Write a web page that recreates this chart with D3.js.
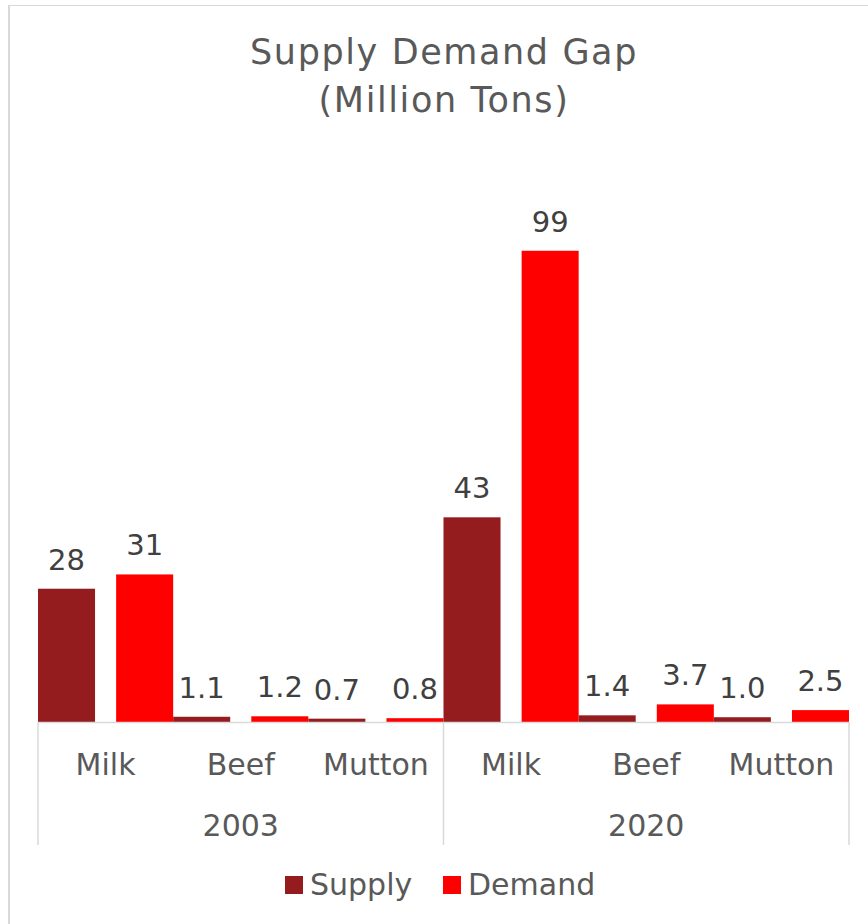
<!DOCTYPE html>
<html>
<head>
<meta charset="UTF-8">
<title>Supply Demand Gap</title>
<style>
  body { margin: 0; background: #fff; }
  text { font-family: "Century Gothic", "DejaVu Sans", sans-serif; fill: #595959; }
</style>
</head>
<body>
<script src="https://d3js.org/d3.v7.min.js"></script>
<script>
// data (million tons)
var years = ["2003", "2020"];
var categories = ["Milk", "Beef", "Mutton"];
var series = ["Supply", "Demand"];
var supply2003 = [28, 1.1, 0.7];
var demand2003 = [31, 1.2, 0.8];
var supply2020 = [43, 1.4, 1.0];
var demand2020 = [99, 3.7, 2.5];
var colors = ["#941b1e", "#ff0000"];

var W = 868, H = 924;
var svg = d3.select("body").append("svg")
    .attr("width", W)
    .attr("height", H);

// chart frame (only left and top edges are visible in the crop)
svg.append("line").attr("x1", 9).attr("x2", 9).attr("y1", 5).attr("y2", H)
    .attr("stroke", "#d9d9d9").attr("stroke-width", 2);
svg.append("line").attr("x1", 8).attr("x2", W).attr("y1", 5.5).attr("y2", 5.5)
    .attr("stroke", "#d9d9d9").attr("stroke-width", 1);

// title
svg.append("text")
    .attr("x", 444).attr("y", 64)
    .attr("text-anchor", "middle")
    .attr("font-size", 35)
    .attr("letter-spacing", 1.6)
    .text("Supply Demand Gap");
svg.append("text")
    .attr("x", 444).attr("y", 112)
    .attr("text-anchor", "middle")
    .attr("font-size", 35)
    .attr("letter-spacing", 1.6)
    .text("(Million Tons)");

var rows = [];
var values = { "2003": [supply2003, demand2003], "2020": [supply2020, demand2020] };
years.forEach(function(yr) {
  categories.forEach(function(c, i) {
    rows.push({ year: yr, cat: c, Supply: values[yr][0][i], Demand: values[yr][1][i] });
  });
});

var left = 38, right = 849, baseY = 722;

var x0 = d3.scaleBand().domain(years).range([left, right]).padding(0);
var x1 = d3.scaleBand().domain(categories).range([0, x0.bandwidth()]).padding(0);
var x2 = d3.scaleBand().domain(series).range([0, x1.bandwidth()]).paddingInner(0.27).paddingOuter(0);
var y = d3.scaleLinear().domain([0, 120]).range([baseY, baseY - 120 * 4.76]);

var fmt = function(v) { return v >= 10 ? d3.format("d")(v) : d3.format(".1f")(v); };

var groups = svg.append("g").selectAll("g")
    .data(rows)
    .enter().append("g")
    .attr("transform", function(d) { return "translate(" + (x0(d.year) + x1(d.cat)) + ",0)"; });

var bars = groups.selectAll("g")
    .data(function(d) { return series.map(function(s, i) { return { key: s, value: d[s], color: colors[i] }; }); })
    .enter().append("g");

bars.append("rect")
    .attr("x", function(d) { return x2(d.key); })
    .attr("y", function(d) { return y(d.value); })
    .attr("width", x2.bandwidth())
    .attr("height", function(d) { return baseY - y(d.value); })
    .attr("fill", function(d) { return d.color; });

bars.append("text")
    .attr("x", function(d) { return x2(d.key) + x2.bandwidth() / 2; })
    .attr("y", function(d) { return y(d.value) - 19; })
    .attr("text-anchor", "middle")
    .attr("font-size", 29)
    .style("fill", "#404040")
    .text(function(d) { return fmt(d.value); });

// category axis
var axis = svg.append("g");
axis.append("line")
    .attr("x1", left).attr("x2", right)
    .attr("y1", baseY + 0.5).attr("y2", baseY + 0.5)
    .attr("stroke", "#d9d9d9").attr("stroke-width", 1.5);

var dividers = years.map(function(yr) { return x0(yr); }).concat([right]);
axis.selectAll("line.div")
    .data(dividers)
    .enter().append("line")
    .attr("class", "div")
    .attr("x1", function(d) { return d; }).attr("x2", function(d) { return d; })
    .attr("y1", baseY).attr("y2", 845)
    .attr("stroke", "#d9d9d9").attr("stroke-width", 1.5);

axis.selectAll("text.cat")
    .data(rows)
    .enter().append("text")
    .attr("class", "cat")
    .attr("x", function(d) { return x0(d.year) + x1(d.cat) + x1.bandwidth() / 2; })
    .attr("y", 775)
    .attr("text-anchor", "middle")
    .attr("font-size", 30)
    .text(function(d) { return d.cat; });

axis.selectAll("text.year")
    .data(years)
    .enter().append("text")
    .attr("class", "year")
    .attr("x", function(d) { return x0(d) + x0.bandwidth() / 2; })
    .attr("y", 836)
    .attr("text-anchor", "middle")
    .attr("font-size", 30)
    .text(function(d) { return d; });

// legend
var legendX = [285, 443];
var legend = svg.append("g").selectAll("g")
    .data(series)
    .enter().append("g")
    .attr("transform", function(d, i) { return "translate(" + legendX[i] + ",876)"; });
legend.append("rect")
    .attr("width", 18).attr("height", 18)
    .attr("fill", function(d, i) { return colors[i]; });
legend.append("text")
    .attr("x", 25).attr("y", 19)
    .attr("font-size", 30)
    .text(function(d) { return d; });
</script>
</body>
</html>
